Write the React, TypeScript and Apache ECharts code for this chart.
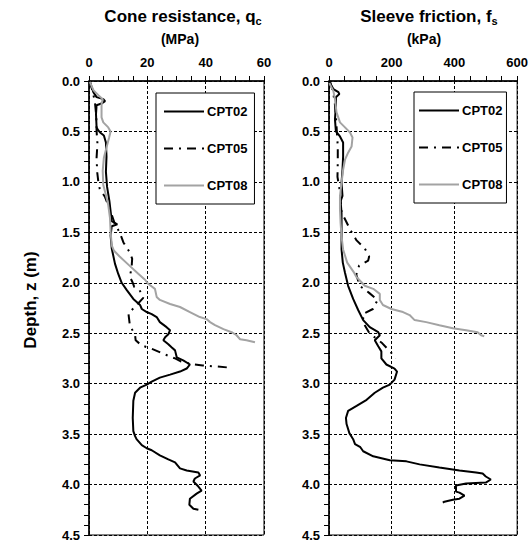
import React, { useEffect, useRef } from "react";
import * as echarts from "echarts";

// ---- Data (depth in m, value) ----
const seriesNames = ["CPT02", "CPT05", "CPT08"];

// Cone resistance qc (MPa)
const qcDepth02 = [0.01, 0.11, 0.16, 0.18, 0.2, 0.22, 0.24, 0.33, 0.46, 0.49, 0.51, 0.54, 0.61, 0.75, 0.9, 1.05, 1.19, 1.39, 1.42, 1.44, 1.53, 1.66, 1.81, 1.91, 2.0, 2.07, 2.16, 2.22, 2.26, 2.29, 2.31, 2.34, 2.39, 2.44, 2.47, 2.51, 2.54, 2.57, 2.61, 2.64, 2.67, 2.74, 2.77, 2.81, 2.85, 2.88, 2.91, 2.94, 2.98, 3.01, 3.04, 3.09, 3.17, 3.34, 3.47, 3.52, 3.55, 3.61, 3.64, 3.66, 3.71, 3.75, 3.78, 3.84, 3.86, 3.88, 3.91, 3.94, 3.97, 4.02, 4.06, 4.09, 4.14, 4.2, 4.24, 4.25];
const qc02 = [0.3, 1.5, 2.6, 4.9, 5.5, 4.5, 2.6, 2.4, 2.6, 3.2, 3.8, 5.1, 5.8, 6.0, 5.8, 6.2, 7.0, 7.8, 9.7, 7.8, 7.4, 7.8, 8.9, 10.0, 11.2, 12.9, 15.2, 17.5, 18.1, 19.8, 21.5, 23.2, 24.3, 26.6, 27.8, 27.2, 26.1, 25.5, 27.2, 28.3, 29.5, 30.1, 32.3, 34.6, 33.5, 31.2, 27.8, 24.3, 21.5, 19.8, 17.5, 15.8, 15.2, 15.0, 15.2, 15.8, 16.3, 18.1, 19.8, 21.5, 24.3, 27.2, 29.5, 31.2, 33.5, 37.5, 38.1, 36.3, 35.8, 37.5, 38.6, 36.9, 34.6, 34.4, 35.8, 37.5];

const qcDepth05 = [0.0, 0.1, 0.2, 0.35, 0.5, 0.62, 0.76, 0.9, 1.0, 1.07, 1.15, 1.3, 1.42, 1.5, 1.6, 1.69, 1.76, 1.85, 1.94, 2.0, 2.04, 2.07, 2.15, 2.2, 2.26, 2.3, 2.42, 2.52, 2.57, 2.62, 2.66, 2.71, 2.75, 2.78, 2.81, 2.82, 2.83, 2.84];
const qc05 = [0.3, 1.2, 2.0, 2.5, 2.6, 2.9, 2.6, 2.8, 3.2, 3.7, 5.5, 7.5, 8.9, 10.5, 11.8, 13.8, 14.8, 14.6, 14.0, 15.0, 15.5, 17.3, 18.6, 17.0, 15.0, 13.5, 14.0, 15.8, 16.0, 18.0, 22.0, 26.0, 29.5, 31.5, 36.0, 39.0, 44.0, 47.8];

const qcDepth08 = [0.01, 0.09, 0.14, 0.18, 0.23, 0.36, 0.41, 0.46, 0.5, 0.56, 0.66, 0.76, 0.89, 1.03, 1.13, 1.23, 1.36, 1.49, 1.63, 1.68, 1.74, 1.82, 1.91, 1.97, 2.01, 2.06, 2.14, 2.17, 2.21, 2.24, 2.29, 2.34, 2.36, 2.39, 2.42, 2.46, 2.49, 2.52, 2.56, 2.57, 2.59];
const qc08 = [0.3, 1.5, 3.2, 4.7, 4.3, 4.3, 4.9, 6.6, 7.4, 6.9, 6.0, 5.1, 4.7, 4.9, 5.8, 6.6, 7.2, 7.4, 7.8, 8.5, 10.5, 13.5, 16.9, 19.2, 20.3, 22.6, 23.2, 24.3, 27.8, 31.2, 34.6, 38.0, 40.3, 41.5, 43.2, 46.1, 48.9, 50.6, 51.8, 54.0, 56.9];

// Sleeve friction fs (kPa)
const fsDepth02 = [0.02, 0.08, 0.11, 0.13, 0.16, 0.25, 0.38, 0.5, 0.55, 0.61, 0.75, 0.88, 1.01, 1.14, 1.19, 1.31, 1.47, 1.67, 1.8, 1.9, 2.03, 2.16, 2.27, 2.37, 2.44, 2.49, 2.52, 2.57, 2.63, 2.68, 2.75, 2.81, 2.85, 2.88, 2.96, 3.01, 3.04, 3.09, 3.16, 3.22, 3.27, 3.34, 3.4, 3.49, 3.55, 3.6, 3.63, 3.67, 3.72, 3.76, 3.77, 3.8, 3.83, 3.86, 3.88, 3.89, 3.92, 3.95, 3.98, 3.99, 4.01, 4.07, 4.08, 4.11, 4.14, 4.15, 4.17, 4.18];
const fs02 = [3, 14, 30, 33, 22, 22, 19, 22, 35, 45, 45, 43, 40, 43, 37, 40, 40, 40, 44, 51, 61, 77, 93, 109, 130, 157, 162, 146, 157, 167, 167, 183, 209, 217, 209, 194, 172, 146, 120, 88, 61, 54, 56, 65, 77, 83, 100, 109, 141, 194, 247, 289, 352, 416, 469, 490, 500, 516, 500, 437, 405, 405, 416, 432, 416, 395, 368, 363];

const fsDepth05 = [0.0, 0.1, 0.2, 0.35, 0.5, 0.65, 0.8, 0.95, 1.1, 1.3, 1.47, 1.58, 1.66, 1.74, 1.78, 1.83, 1.92, 2.03, 2.1, 2.17, 2.26, 2.31, 2.4, 2.5, 2.6, 2.7, 2.75];
const fs05 = [3, 12, 18, 22, 25, 28, 28, 27, 35, 40, 67, 88, 114, 128, 125, 96, 87, 98, 128, 155, 140, 108, 110, 129, 170, 200, 213];

const fsDepth08 = [0.02, 0.1, 0.18, 0.31, 0.41, 0.46, 0.51, 0.56, 0.65, 0.71, 0.78, 0.88, 1.01, 1.14, 1.27, 1.41, 1.54, 1.67, 1.8, 1.9, 1.94, 2.03, 2.06, 2.11, 2.17, 2.22, 2.26, 2.29, 2.32, 2.37, 2.39, 2.42, 2.45, 2.47, 2.49, 2.52, 2.53];
const fs08 = [1, 14, 19, 24, 35, 51, 67, 75, 72, 61, 51, 45, 40, 35, 35, 37, 40, 45, 58, 80, 87, 114, 141, 162, 162, 172, 199, 236, 257, 273, 310, 352, 395, 437, 474, 485, 495];

const qcTicks = { min: 0, max: 60, interval: 20 };
const fsTicks = { min: 0, max: 600, interval: 200 };
const depthTicks = { min: 0, max: 4.5, interval: 0.5 };

const FONT = "'Liberation Sans', Arial, sans-serif";
const GRAY = "#a3a3a3";
const DASHDOT = [9, 6, 2, 6];

function pairs(vals: number[], depths: number[]) {
  return vals.map((v, i) => [v, depths[i]]);
}

function xAxisCfg(gridIndex: number, t: { min: number; max: number; interval: number }) {
  return {
    type: "value",
    gridIndex,
    position: "top",
    min: t.min,
    max: t.max,
    interval: t.interval,
    axisLine: { show: true, onZero: false, lineStyle: { color: "#000", width: 1.5 } },
    axisTick: { show: true, inside: false, length: 5, lineStyle: { color: "#000", width: 1 } },
    minorTick: { show: true, splitNumber: 4, length: 5, lineStyle: { color: "#000", width: 1 } },
    splitLine: { show: true, lineStyle: { color: "#000", width: 1, type: [3, 2] } },
    axisLabel: { color: "#000", fontFamily: FONT, fontWeight: "bold", fontSize: 13, margin: 12 },
  };
}

function yAxisCfg(gridIndex: number) {
  return {
    type: "value",
    gridIndex,
    inverse: true,
    min: depthTicks.min,
    max: depthTicks.max,
    interval: depthTicks.interval,
    axisLine: { show: true, onZero: false, lineStyle: { color: "#000", width: 1.5 } },
    axisTick: { show: true, inside: false, length: 5, lineStyle: { color: "#000", width: 1 } },
    minorTick: { show: true, splitNumber: 5, length: 5, lineStyle: { color: "#000", width: 1 } },
    splitLine: { show: true, lineStyle: { color: "#000", width: 1, type: [3, 2] } },
    axisLabel: {
      color: "#000",
      fontFamily: FONT,
      fontWeight: "bold",
      fontSize: 13,
      margin: 9,
      formatter: (v: number) => v.toFixed(1),
    },
  };
}

function legendCfg(left: number, top: number, padding: number[]) {
  return {
    show: true,
    orient: "vertical",
    left,
    top,
    data: seriesNames,
    itemWidth: 40,
    itemHeight: 14,
    itemGap: 24,
    padding,
    borderColor: "#000",
    borderWidth: 1,
    backgroundColor: "#fff",
    itemStyle: { opacity: 0 },
    textStyle: { color: "#000", fontFamily: FONT, fontWeight: "bold", fontSize: 13, padding: [0, 0, 0, -2] },
  };
}

function lineSeries(name: string, data: number[][], idx: number, color: string, type: any) {
  return {
    name,
    type: "line",
    xAxisIndex: idx,
    yAxisIndex: idx,
    data,
    symbol: "none",
    showSymbol: false,
    smooth: false,
    lineStyle: { color, width: 2, type },
    itemStyle: { color },
  };
}

export default function App() {
  const ref = useRef<HTMLDivElement>(null);
  useEffect(() => {
    if (!ref.current) return;
    const chart = echarts.init(ref.current, undefined, { renderer: "svg" });
    const option: any = {
      animation: false,
      backgroundColor: "#fff",
      grid: [
        { left: 89, top: 81, width: 175, height: 454, show: true, borderColor: "#000", borderWidth: 1, backgroundColor: "transparent" },
        { left: 329, top: 81, width: 191, height: 454, show: true, borderColor: "#000", borderWidth: 1, backgroundColor: "transparent" },
      ],
      xAxis: [xAxisCfg(0, qcTicks), xAxisCfg(1, fsTicks)],
      yAxis: [yAxisCfg(0), yAxisCfg(1)],
      legend: [legendCfg(156, 93, [12, 7, 12, 7]), legendCfg(414, 92, [12, 4, 12, 4])],
      graphic: [
        {
          type: "text",
          x: 183,
          y: 16,
          style: {
            text: "{a|Cone resistance, q}{b|c}",
            align: "center",
            verticalAlign: "middle",
            rich: {
              a: { fontFamily: FONT, fontWeight: "bold", fontSize: 17, fill: "#000", lineHeight: 20 },
              b: { fontFamily: FONT, fontWeight: "bold", fontSize: 11, fill: "#000", lineHeight: 20, verticalAlign: "bottom", padding: [6, 0, 0, 0] },
            },
          },
        },
        {
          type: "text",
          x: 180,
          y: 39,
          style: { text: "(MPa)", align: "center", verticalAlign: "middle", fontFamily: FONT, fontWeight: "bold", fontSize: 14, fill: "#000" },
        },
        {
          type: "text",
          x: 429,
          y: 16,
          style: {
            text: "{a|Sleeve friction, f}{b|s}",
            align: "center",
            verticalAlign: "middle",
            rich: {
              a: { fontFamily: FONT, fontWeight: "bold", fontSize: 17, fill: "#000", lineHeight: 20 },
              b: { fontFamily: FONT, fontWeight: "bold", fontSize: 11, fill: "#000", lineHeight: 20, verticalAlign: "bottom", padding: [6, 0, 0, 0] },
            },
          },
        },
        {
          type: "text",
          x: 424,
          y: 39,
          style: { text: "(kPa)", align: "center", verticalAlign: "middle", fontFamily: FONT, fontWeight: "bold", fontSize: 14, fill: "#000" },
        },
        {
          type: "text",
          x: 30,
          y: 300,
          rotation: Math.PI / 2,
          style: { text: "Depth, z (m)", align: "center", verticalAlign: "middle", fontFamily: FONT, fontWeight: "bold", fontSize: 17, fill: "#000" },
        },
      ],
      series: [
        lineSeries("CPT02", pairs(qc02, qcDepth02), 0, "#000", "solid"),
        lineSeries("CPT05", pairs(qc05, qcDepth05), 0, "#000", DASHDOT),
        lineSeries("CPT08", pairs(qc08, qcDepth08), 0, GRAY, "solid"),
        lineSeries("CPT02", pairs(fs02, fsDepth02), 1, "#000", "solid"),
        lineSeries("CPT05", pairs(fs05, fsDepth05), 1, "#000", DASHDOT),
        lineSeries("CPT08", pairs(fs08, fsDepth08), 1, GRAY, "solid"),
      ],
    };
    chart.setOption(option);
    return () => chart.dispose();
  }, []);
  return (
    <div
      ref={ref}
      style={{ position: "fixed", left: 0, top: 0, width: 531, height: 543, background: "#fff" }}
    />
  );
}
